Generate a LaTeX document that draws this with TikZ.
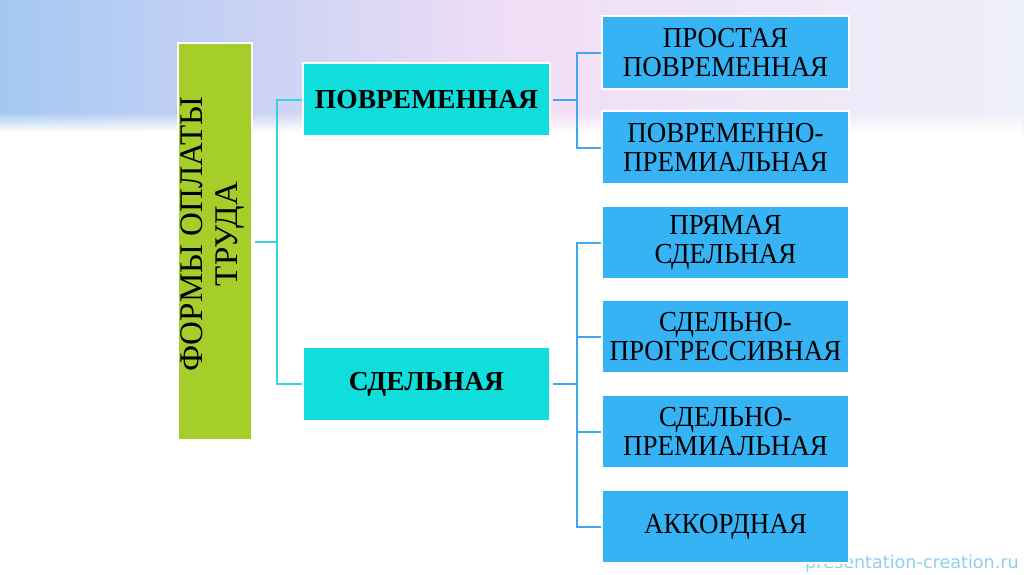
\documentclass[tikz,border=0pt]{standalone}
\usepackage{fontspec}
\setmainfont{Liberation Serif}
\newfontfamily\leaffont[FakeStretch=0.93]{Liberation Serif}
\newfontfamily\wmfont{DejaVu Sans}
\usetikzlibrary{fadings}
\definecolor{greenbox}{HTML}{A6CE2B}
\definecolor{cyanbox}{HTML}{10DEDC}
\definecolor{bluebox}{HTML}{36B3F4}
\definecolor{connleft}{HTML}{36D3E3}
\definecolor{connright}{HTML}{3DA9EC}
\definecolor{bgblue}{HTML}{A4C8F2}
\definecolor{bgpink}{HTML}{F1DDF6}
\definecolor{bgright}{HTML}{EEF0FA}
\definecolor{wmcol}{HTML}{8FD0EE}
\tikzset{
  rootbox/.style={draw=white, line width=1.2pt, fill=greenbox, minimum width=74pt, minimum height=397pt, inner sep=0pt},
  midbox/.style={draw=white, line width=1.2pt, fill=cyanbox, minimum width=247pt, minimum height=73pt, inner sep=0pt, align=center, font=\fontsize{27.5}{29}\selectfont\bfseries},
  leafbox/.style={draw=white, line width=1.2pt, fill=bluebox, minimum width=247pt, minimum height=73pt, inner sep=0pt, align=center, font=\leaffont\fontsize{29}{28.5}\selectfont},
  connl/.style={draw=connleft, line width=2pt},
  connr/.style={draw=connright, line width=2pt}
}
\begin{document}
\begin{tikzpicture}[x=1pt,y=-1pt]
\useasboundingbox (0,0) rectangle (1024,574);
\fill[white] (0,0) rectangle (1024,574);
% background band
\shade[left color=bgblue, right color=bgright, middle color=bgpink] (0,0) rectangle (1024,131);
\fill[white, path fading=north] (0,112) rectangle (1024,132);
% watermark
\node[anchor=base east, text=wmcol, font=\wmfont\fontsize{17.6}{19}\selectfont, inner sep=0pt] (wm) at (1019,568) {presentation-creation.ru};
% nodes
\node[rootbox] (root) at (215,241.5) {};
\node[rotate=90, align=center, font=\fontsize{33}{35}\selectfont, inner sep=0pt] (roottext) at (213,234) {ФОРМЫ ОПЛАТЫ\\ТРУДА};
\node[midbox] (pov) at (426.5,99.5) {ПОВРЕМЕННАЯ};
\node[midbox] (sd) at (426.5,384) {СДЕЛЬНАЯ};
\node[leafbox] (r1) at (725.5,52.5) {ПРОСТАЯ\\ПОВРЕМЕННАЯ};
\node[leafbox] (r2) at (725.5,147.5) {ПОВРЕМЕННО-\\ПРЕМИАЛЬНАЯ};
\node[leafbox] (r3) at (725.5,242.5) {ПРЯМАЯ\\СДЕЛЬНАЯ};
\node[leafbox] (r4) at (725.5,336.5) {СДЕЛЬНО-\\ПРОГРЕССИВНАЯ};
\node[leafbox] (r5) at (725.5,431.5) {СДЕЛЬНО-\\ПРЕМИАЛЬНАЯ};
\node[leafbox] (r6) at (725.5,526.5) {АККОРДНАЯ};
% junctions
\coordinate (j1) at (277,241.5);
\coordinate (j2) at (577,99.5);
\coordinate (j3) at (577,384);
% connectors
\draw[connl] ([xshift=2pt]root.east) -- (j1);
\draw[connl] (pov.west) -| (j1) |- (sd.west);
\draw[connr] ([xshift=2pt]pov.east) -- (j2);
\draw[connr] (r1.west) -| (j2) |- (r2.west);
\draw[connr] ([xshift=2pt]sd.east) -- (j3);
\draw[connr] (r3.west) -| (j3) |- (r6.west);
\draw[connr] (r4.west) -- (r4.west -| j3);
\draw[connr] (r5.west) -- (r5.west -| j3);
\end{tikzpicture}
\end{document}
